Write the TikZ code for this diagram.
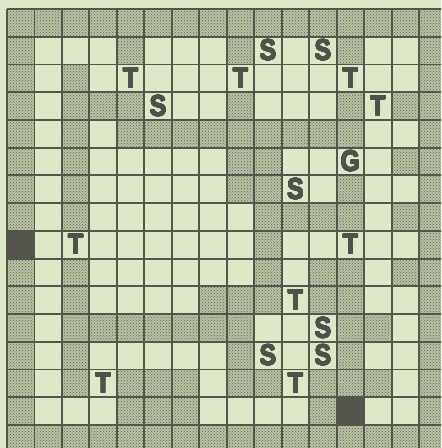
\documentclass[tikz,border=0pt]{standalone}
\usepackage{fontspec}
\usepackage[copies]{contour}
\usetikzlibrary{patterns}
\newfontfamily\mapfont{Liberation Sans}
\contourlength{0.5pt}
\contournumber{24}
\definecolor{paper}{RGB}{221,232,200}
\definecolor{shadebg}{RGB}{184,194,164}
\definecolor{dotc}{RGB}{92,97,84}
\definecolor{ink}{RGB}{84,86,78}
\definecolor{lettc}{RGB}{80,81,74}
\tikzset{wall/.style={preaction={fill=shadebg},pattern=crosshatch dots,pattern color=dotc},blk/.style={fill=ink},gridln/.style={draw=ink,line width=1.9pt},lbl/.style={font=\mapfont\bfseries\fontsize{29}{29}\selectfont,xscale=.85,inner sep=0pt}}

\begin{document}
\begin{tikzpicture}[x=27.47pt,y=-27.73pt]
\useasboundingbox (-0.2548,-0.3246) rectangle (15.799,15.831);
\fill[paper] (-0.2548,-0.3246) rectangle (15.799,15.831);
\clip (-0.2548,-0.3246) rectangle (15.799,15.831);
% shaded cells, row by row
\foreach \r/\cols in {0/{0,...,15},1/{0,4,8,12,15},2/{0,2,15},3/{0,2,3,4,8,12,14,15},
  4/{0,2,4,5,6,7,8,9,10,11,12,15},5/{0,2,8,9,14,15},6/{0,2,8,9,12,15},7/{0,2,9,10,11,12,14,15},
  8/{9,15},9/{0,2,9,11,12,14,15},10/{0,2,7,8,9,11,12,15},11/{0,2,3,4,5,6,7,8,12,13,15},
  12/{0,2,8,12,15},13/{0,2,4,5,6,8,9,11,12,13,15},14/{0,4,5,6,11,15},15/{0,...,15}}
  \foreach \c in \cols {\fill[wall] (\c,\r) rectangle ++(1,1);}
\fill[blk] (0,8) rectangle ++(1,1);
\fill[blk] (12,14) rectangle ++(1,1);
\foreach \i in {0,...,16} {\draw[gridln] (\i,0) -- (\i,16); \draw[gridln] (0,\i) -- (16,\i);}
% letters
\foreach \l/\c/\r in {S/9/1,S/11/1,T/4/2,T/8/2,T/12/2,S/5/3,T/13/3,G/12/5,S/10/6,T/2/8,T/12/8,
  T/10/10,S/11/11,S/9/12,S/11/12,T/3/13,T/10/13}
  \node[lbl] (\l-\c-\r) at (\c+.5,\r+.5) {\color{lettc}\contour{lettc}{\l}};
\end{tikzpicture}
\end{document}
